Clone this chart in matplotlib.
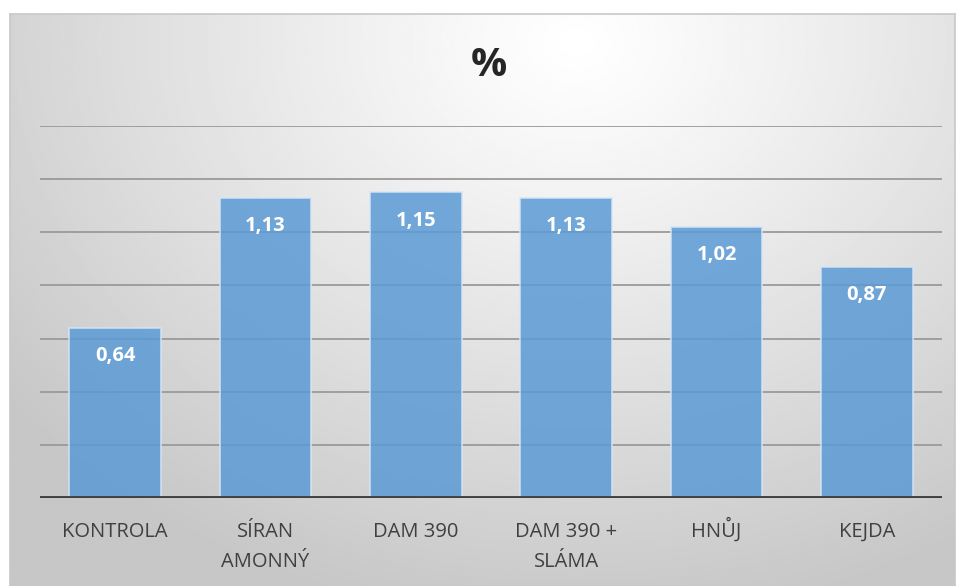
import numpy as np
import matplotlib as mpl
import matplotlib.pyplot as plt

categories = ["KONTROLA", "SÍRAN\nAMONNÝ", "DAM 390", "DAM 390 +\nSLÁMA", "HNŮJ", "KEJDA"]
values = [0.64, 1.13, 1.15, 1.13, 1.02, 0.87]
value_labels = ["0,64", "1,13", "1,15", "1,13", "1,02", "0,87"]
gridlevels = [0.2, 0.4, 0.6, 0.8, 1.0, 1.2, 1.4]

FONT = ["Open Sans", "DejaVu Sans"]
BAR = "#5b9bd5"
INK = "#404040"

mpl.rcParams["font.family"] = FONT

W, H = 959, 586
fig = plt.figure(figsize=(W / 100, H / 100), dpi=100)
fig.patch.set_facecolor("white")

# chart-area background: soft radial gradient, light near top centre
bg = fig.add_axes([10 / W, 0, 945 / W, 572 / H])
yy, xx = np.mgrid[0:1:300j, 0:1:500j]
r = np.sqrt(((xx - 0.6) * 1.0) ** 2 + ((yy - 0.05) * 0.75) ** 2)
shade = np.clip(1.0 - 0.2 * (r / 0.7) ** 1.1, 0.78, 1.0)
bg.imshow(shade, cmap="gray", vmin=0, vmax=1, aspect="auto",
          extent=[0, 1, 0, 1], origin="upper", interpolation="bilinear")
bg.set_xticks([])
bg.set_yticks([])
for s in bg.spines.values():
    s.set_color("#c8c8c8")
    s.set_linewidth(1.2)

ax = fig.add_axes([40 / W, (H - 498) / H, 902 / W, 372 / H])
ax.patch.set_alpha(0)
x = np.arange(len(categories))
for g in gridlevels:
    ax.axhline(g, color="#9a9a9a", lw=1.3, zorder=1)
ax.bar(x, values, width=0.61, color=BAR, alpha=0.85, edgecolor="#d6e6f5",
       linewidth=1.2, zorder=2)
ax.axhline(0, color=INK, lw=2.8, zorder=3)
for xi, v, lab in zip(x, values, value_labels):
    ax.annotate(lab, (xi, v), textcoords="offset points", xytext=(0, -20.5),
                ha="center", va="center", color="white", fontsize=14.5,
                fontweight="bold", zorder=4)
# category labels: one text per line so baselines line up across categories
for xi, cat in zip(x, categories):
    for i, line in enumerate(cat.split("\n")):
        ax.annotate(line, (xi, 0), textcoords="offset points",
                    xytext=(0, -28 - 21.6 * i), ha="center", va="baseline",
                    color=INK, fontsize=14.5, annotation_clip=False)
ax.set_xlim(-0.5, len(categories) - 0.5)
ax.set_ylim(0, 1.4)
ax.set_yticks([])
ax.set_xticks([])
for s in ax.spines.values():
    s.set_visible(False)

fig.text(489 / W, 1 - 66 / H, "%", ha="center", va="center", fontsize=29,
         fontweight="bold", color="#262626")

fig.savefig("out.png", dpi=100)
